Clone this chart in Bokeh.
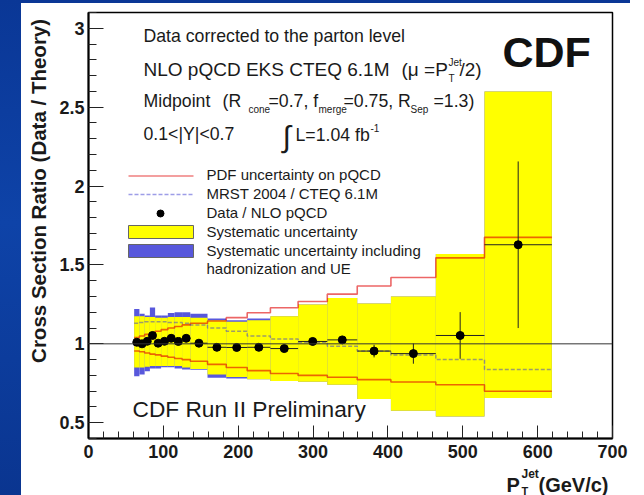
import math

from bokeh.plotting import figure
from bokeh.models import FixedTicker, Div, Span, ColumnDataSource
from bokeh.layouts import row, column
from bokeh.core.properties import value
from bokeh.embed import file_html
from bokeh.resources import INLINE

# ---------------------------------------------------------------- data
# jet pT bins (GeV/c), 0.1 < |Y| < 0.7
bin_edges = [61, 68, 75, 82, 89, 97, 106, 115, 125, 136, 159, 184, 212,
             243, 280, 319, 359, 404, 464, 529, 619]

# Data / NLO pQCD ratio and its statistical error
ratio = [1.010, 1.000, 1.016, 1.053, 1.004, 1.016, 1.035, 1.015, 1.035, 1.004,
         0.978, 0.977, 0.978, 0.970, 1.015, 1.025, 0.954, 0.938, 1.053, 1.628]
ratio_err = [0.012, 0.012, 0.014, 0.022, 0.010, 0.010, 0.010, 0.010, 0.010, 0.010,
             0.010, 0.012, 0.012, 0.014, 0.018, 0.022, 0.040, 0.064, 0.148, 0.528]

# systematic uncertainty band
syst_up = [1.175, 1.175, 1.17, 1.17, 1.165, 1.165, 1.17, 1.17, 1.17, 1.165,
           1.15, 1.14, 1.15, 1.175, 1.25, 1.29, 1.255, 1.30, 1.57, 2.60]
syst_down = [0.85, 0.85, 0.855, 0.86, 0.86, 0.86, 0.86, 0.86, 0.85, 0.84,
             0.805, 0.79, 0.775, 0.765, 0.76, 0.741, 0.65, 0.576, 0.54, 0.656]

# systematic uncertainty including hadronization and UE
syst_had_up = [1.22, 1.19, 1.18, 1.23, 1.18, 1.18, 1.195, 1.20, 1.20, 1.19,
               1.16, 1.15, 1.16, 1.175, 1.25, 1.29, 1.255, 1.30, 1.57, 2.60]
syst_had_down = [0.795, 0.805, 0.826, 0.843, 0.843, 0.852, 0.852, 0.843, 0.837, 0.835,
                 0.785, 0.78, 0.775, 0.765, 0.76, 0.741, 0.65, 0.576, 0.54, 0.656]

# PDF uncertainty on pQCD
pdf_up = [1.04, 1.05, 1.06, 1.07, 1.08, 1.09, 1.10, 1.11, 1.12, 1.13,
          1.145, 1.166, 1.197, 1.229, 1.268, 1.315, 1.367, 1.42, 1.545, 1.675]
pdf_down = [0.955, 0.95, 0.942, 0.935, 0.93, 0.922, 0.915, 0.907, 0.90, 0.89,
            0.87, 0.85, 0.83, 0.812, 0.80, 0.788, 0.773, 0.758, 0.741, 0.699]

# MRST 2004 / CTEQ 6.1M
mrst_ratio = [1.13, 1.135, 1.14, 1.14, 1.14, 1.14, 1.135, 1.135, 1.13, 1.12,
              1.10, 1.08, 1.05, 1.03, 1.01, 0.985, 0.954, 0.93, 0.90, 0.837]

x_ticks = [0, 100, 200, 300, 400, 500, 600, 700]
x_minor = list(range(0, 701, 20))
y_ticks = [0.5, 1, 1.5, 2, 2.5, 3]
y_labels = ["0.5", "1", "1.5", "2", "2.5", "3"]
y_minor = [round(0.4 + 0.1 * i, 1) for i in range(28)]

X_RANGE = (0, 700)
Y_RANGE = (0.4, 3.1)

# ---------------------------------------------------------------- page geometry (pixels)
PAGE_W, PAGE_H = 644, 495
STRIP_W, STRIP_H = 21, 3           # blue slide border, left and top
YLAB_W = 31                        # column holding the y-axis title
MAIN_H = 465                       # main plot height (below the top strip)
FRAME_L, FRAME_R, FRAME_T, FRAME_B = 88, 612, 12, 438


def X(px):
    """page pixel column -> pT value"""
    return X_RANGE[0] + (px - FRAME_L) * (X_RANGE[1] - X_RANGE[0]) / (FRAME_R - FRAME_L)


def Y(py):
    """page pixel row -> ratio value"""
    return Y_RANGE[1] - (py - FRAME_T) * (Y_RANGE[1] - Y_RANGE[0]) / (FRAME_B - FRAME_T)


FONT = "Liberation Sans"
TXT = "#1a1a1a"
RED = "#e00000"
DASH_BLUE = "#3c3cd0"
BAND_BLUE = "#5858dc"
YELLOW = "#ffff00"

lo = bin_edges[:-1]
hi = bin_edges[1:]
centers = [(a + b) / 2 for a, b in zip(lo, hi)]

# ---------------------------------------------------------------- main figure
main_left = STRIP_W + YLAB_W
p = figure(width=PAGE_W - main_left, height=MAIN_H, x_range=X_RANGE, y_range=Y_RANGE,
           output_backend="svg", toolbar_location=None,
           min_border_left=FRAME_L - main_left, min_border_right=PAGE_W - FRAME_R,
           min_border_top=FRAME_T - STRIP_H,
           min_border_bottom=STRIP_H + MAIN_H - FRAME_B,
           background_fill_color="white", border_fill_color="white")
p.xgrid.visible = False
p.ygrid.visible = False
p.outline_line_color = "black"
p.outline_line_width = 1.5

for ax in (p.xaxis, p.yaxis):
    ax.axis_line_width = 2
    ax.axis_line_color = "black"
    ax.major_tick_out = 0
    ax.minor_tick_out = 0
    ax.major_tick_line_color = "#222222"
    ax.minor_tick_line_color = "#222222"
    ax.major_label_text_font = FONT
    ax.major_label_text_font_style = "bold"
    ax.major_label_text_font_size = "18px"
    ax.major_label_text_color = TXT

p.xaxis.ticker = FixedTicker(ticks=x_ticks, minor_ticks=x_minor)
p.xaxis.major_tick_in = 13
p.xaxis.minor_tick_in = 7
p.xaxis.major_label_standoff = 6

p.yaxis.ticker = FixedTicker(ticks=y_ticks, minor_ticks=y_minor)
p.yaxis.major_label_overrides = dict(zip(y_ticks, y_labels))
p.yaxis.major_tick_in = 15
p.yaxis.minor_tick_in = 8
p.yaxis.major_label_standoff = 4

# ---------------------------------------------------------------- bands
band_src = ColumnDataSource(dict(lo=lo, hi=hi, sup=syst_up, sdn=syst_down,
                                 hup=syst_had_up, hdn=syst_had_down))
p.quad(left="lo", right="hi", bottom="hdn", top="hup", source=band_src,
       fill_color=BAND_BLUE, line_color=None)
p.quad(left="lo", right="hi", bottom="sdn", top="sup", source=band_src,
       fill_color=YELLOW, line_color=None)

# PDF uncertainty and MRST/CTEQ step curves
p.step(bin_edges, pdf_up + pdf_up[-1:], mode="after",
       line_color=RED, line_alpha=0.6, line_width=1.6)
p.step(bin_edges, pdf_down + pdf_down[-1:], mode="after",
       line_color=RED, line_alpha=0.6, line_width=1.6)
p.step(bin_edges, mrst_ratio + mrst_ratio[-1:], mode="after",
       line_color=DASH_BLUE, line_alpha=0.5, line_width=1.5, line_dash="4 2")

p.add_layout(Span(location=1, dimension="width", line_color="#333333", line_width=1))

# data points with errors
pt_src = ColumnDataSource(dict(
    x=centers, y=ratio, lo=lo, hi=hi,
    ylo=[r - e for r, e in zip(ratio, ratio_err)],
    yhi=[r + e for r, e in zip(ratio, ratio_err)]))
p.segment(x0="x", y0="ylo", x1="x", y1="yhi", source=pt_src,
          line_color="#222222", line_width=1)
p.segment(x0="lo", y0="y", x1="hi", y1="y", source=pt_src,
          line_color="#222222", line_width=1)
p.scatter(x="x", y="y", source=pt_src, size=8, marker="circle",
          fill_color="black", line_color="black")


# ---------------------------------------------------------------- texts
def put(fig, txt, x, y, size, bold=False, color=TXT, align="left", angle=0.0):
    fig.text(x=[x], y=[y], text=[txt], text_font=value(FONT),
             text_font_size=value(f"{size}px"),
             text_font_style="bold" if bold else "normal",
             text_color=color, text_align=align, text_baseline="middle",
             angle=angle)


def note(txt, px, py, size, **kw):
    put(p, txt, X(px), Y(py), size, **kw)


MAIN_FS = 17.7
SUB_FS = 10

note("Data corrected to the parton level", 143, 35, MAIN_FS)

note("NLO pQCD EKS CTEQ 6.1M", 143, 69, 19)
note("(\u03bc =P", 401, 69, 19)
note("Jet", 448, 62, SUB_FS)
note("T", 448, 78, SUB_FS)
note("/2)", 459, 69, 19)

note("Midpoint", 143, 100, MAIN_FS)
note("(R", 222, 100, MAIN_FS)
note("cone", 248, 109, SUB_FS)
note("=0.7, f", 268, 100, MAIN_FS)
note("merge", 318, 109, SUB_FS)
note("=0.75, R", 343, 100, MAIN_FS)
note("Sep", 410, 109, SUB_FS)
note("=1.3)", 433, 100, MAIN_FS)

note("0.1<|Y|<0.7", 143, 133, MAIN_FS)
note("\u222b", 282, 136, 30)
note("L=1.04 fb", 295, 134, MAIN_FS)
note("-1", 370, 127, SUB_FS)

note("CDF", 502, 51, 43, bold=True, color="#111111")
note("CDF Run II Preliminary", 132, 408, 22.7)

# ---------------------------------------------------------------- legend
p.line([X(128), X(193)], [Y(175.5)] * 2, line_color=RED, line_alpha=0.5, line_width=1.6)
p.line([X(128), X(193)], [Y(194)] * 2, line_color=DASH_BLUE, line_alpha=0.5,
       line_width=1.5, line_dash="4 2")
p.scatter([X(160)], [Y(213)], size=7, marker="circle", fill_color="black", line_color="black")
p.quad(left=[X(128)], right=[X(193)], top=[Y(225)], bottom=[Y(238)],
       fill_color=YELLOW, line_color="#666666", line_width=1)
p.quad(left=[X(128)], right=[X(193)], top=[Y(244)], bottom=[Y(257)],
       fill_color=BAND_BLUE, line_color="#666666", line_width=1)

legend_rows = ["PDF uncertainty on pQCD", "MRST 2004 / CTEQ 6.1M", "Data / NLO pQCD",
               "Systematic uncertainty", "Systematic uncertainty including",
               "hadronization and UE"]
for txt, py in zip(legend_rows, [174, 193, 212, 231, 250, 268]):
    note(txt, 206, py, 15)


# ---------------------------------------------------------------- axis titles
def text_strip(width, height, x0, y0):
    """blank figure whose coordinates are page pixels (y grows downward)"""
    f = figure(width=width, height=height, x_range=(x0, x0 + width),
               y_range=(y0 + height, y0), output_backend="svg",
               toolbar_location=None, x_axis_location=None, y_axis_location=None,
               min_border=0, outline_line_color=None,
               background_fill_color="white", border_fill_color="white")
    f.xgrid.visible = False
    f.ygrid.visible = False
    return f


# y-axis title, rotated and ending at the top of the frame
ylab = text_strip(YLAB_W, MAIN_H, STRIP_W, STRIP_H)
put(ylab, "Cross Section Ratio (Data / Theory)", 38, 10, 20.5, bold=True,
    align="right", angle=math.pi / 2)

# x-axis title  P_T^Jet (GeV/c)
xlab_y0 = STRIP_H + MAIN_H
xlab = text_strip(PAGE_W - STRIP_W, PAGE_H - xlab_y0, STRIP_W, xlab_y0)
put(xlab, "P", 506, 484, 20, bold=True)
put(xlab, "Jet", 521, 473, 12, bold=True)
put(xlab, "T", 521, 490, 11, bold=True)
put(xlab, "(GeV/c)", 538, 484, 20, bold=True)

# ---------------------------------------------------------------- page
left_strip = Div(text="", width=STRIP_W, height=PAGE_H, margin=0,
                 styles={"background": "linear-gradient(180deg,#0a3796 0%,#0e43a8 45%,#0a3590 100%)"})
top_strip = Div(text="", width=609, height=STRIP_H, margin=0,
                styles={"background": "#0a3796"})
layout = row(left_strip,
             column(top_strip, row(ylab, p, spacing=0), xlab, spacing=0),
             spacing=0)

open("out.html", "w").write(file_html(layout, INLINE))
